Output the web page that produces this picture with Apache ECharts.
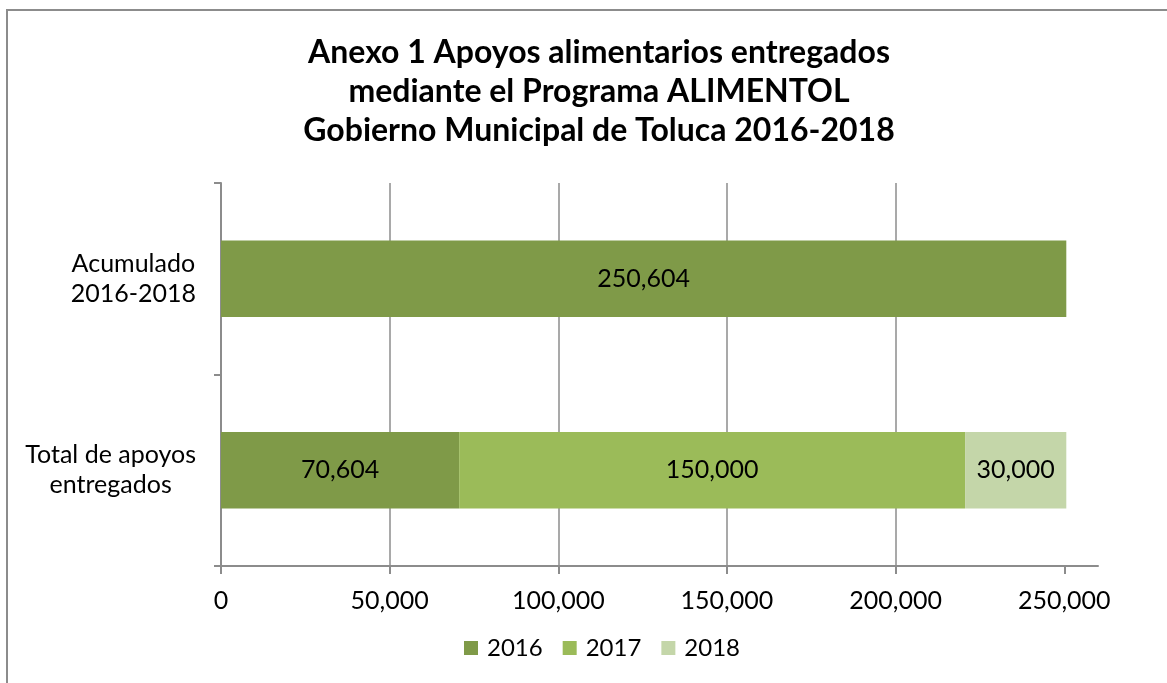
<!DOCTYPE html>
<html>
<head>
<meta charset="utf-8">
<script src="https://cdn.jsdelivr.net/npm/echarts@6/dist/echarts.min.js"></script>
<style>
html,body{margin:0;padding:0;background:#fff;}
#chart{width:1167px;height:683px;}
</style>
</head>
<body>
<div id="chart"></div>
<script>
const titleText = 'Anexo 1 Apoyos alimentarios entregados\nmediante el Programa ALIMENTOL\nGobierno Municipal de Toluca 2016-2018';
const categories = ['Total de apoyos\nentregados', 'Acumulado\n2016-2018'];
const seriesNames = ['2016', '2017', '2018'];
const values2016 = [70604, 250604];
const values2017 = [150000, null];
const values2018 = [30000, null];
const xTicks = [0, 50000, 100000, 150000, 200000, 250000];
const xMax = 260000;

const colors = ['#7f9a48', '#9bbb59', '#c4d6a9'];
const FONT = 'Lato, "Open Sans", sans-serif';
const fmt = v => Number(v).toLocaleString('en-US');

const chart = echarts.init(document.getElementById('chart'), null, {renderer: 'canvas'});

function mkSeries(name, data, color) {
  return {
    name: name,
    type: 'bar',
    stack: 'total',
    data: data,
    barWidth: '40%',
    itemStyle: {color: color},
    label: {
      show: true,
      position: 'inside',
      color: '#000',
      fontFamily: FONT,
      fontSize: 25,
      formatter: p => (p.value == null ? '' : fmt(p.value))
    },
    emphasis: {disabled: true}
  };
}

chart.setOption({
  animation: false,
  backgroundColor: '#fff',
  color: colors,
  textStyle: {fontFamily: FONT},
  title: {
    text: titleText,
    left: 594,
    top: 28,
    textAlign: 'center',
    textStyle: {
      fontFamily: FONT,
      fontWeight: 'bold',
      fontSize: 32,
      lineHeight: 39,
      color: '#000'
    }
  },
  graphic: [{
    type: 'rect',
    shape: {x: 7, y: 10, width: 1200, height: 720},
    style: {fill: 'none', stroke: '#8c8c8c', lineWidth: 2},
    silent: true,
    z: 100
  }],
  legend: {
    data: seriesNames,
    left: 459,
    top: 631,
    itemWidth: 14,
    itemHeight: 14,
    itemGap: 20,
    icon: 'rect',
    textStyle: {fontFamily: FONT, fontSize: 24, color: '#000', padding: [0, 0, 0, 4]}
  },
  grid: {
    left: 221,
    right: 69,
    top: 183,
    bottom: 117,
    containLabel: false
  },
  xAxis: {
    type: 'value',
    min: 0,
    max: xMax,
    interval: 50000,
    axisLine: {show: true, lineStyle: {color: '#8c8c8c', width: 2}},
    axisTick: {show: true, length: 8, customValues: xTicks, lineStyle: {color: '#8c8c8c', width: 2}},
    axisLabel: {
      customValues: xTicks,
      formatter: v => fmt(v),
      color: '#000',
      fontFamily: FONT,
      fontSize: 25,
      margin: 22
    },
    splitLine: {show: true, showMaxLine: false, lineStyle: {color: '#8c8c8c', width: 1.5}}
  },
  yAxis: {
    type: 'category',
    data: categories,
    axisLine: {show: true, lineStyle: {color: '#8c8c8c', width: 2}},
    axisTick: {show: true, length: 7, alignWithLabel: false, lineStyle: {color: '#8c8c8c', width: 2}},
    axisLabel: {
      color: '#000',
      fontFamily: FONT,
      fontSize: 25,
      lineHeight: 30,
      margin: 25,
      formatter: v => v.split('\n').map(s => '{c|' + s + '}').join('\n'),
      rich: {c: {align: 'center', fontFamily: FONT, fontSize: 25, lineHeight: 30, color: '#000'}}
    }
  },
  series: [
    mkSeries(seriesNames[0], values2016, colors[0]),
    mkSeries(seriesNames[1], values2017, colors[1]),
    mkSeries(seriesNames[2], values2018, colors[2])
  ]
});
</script>
</body>
</html>
